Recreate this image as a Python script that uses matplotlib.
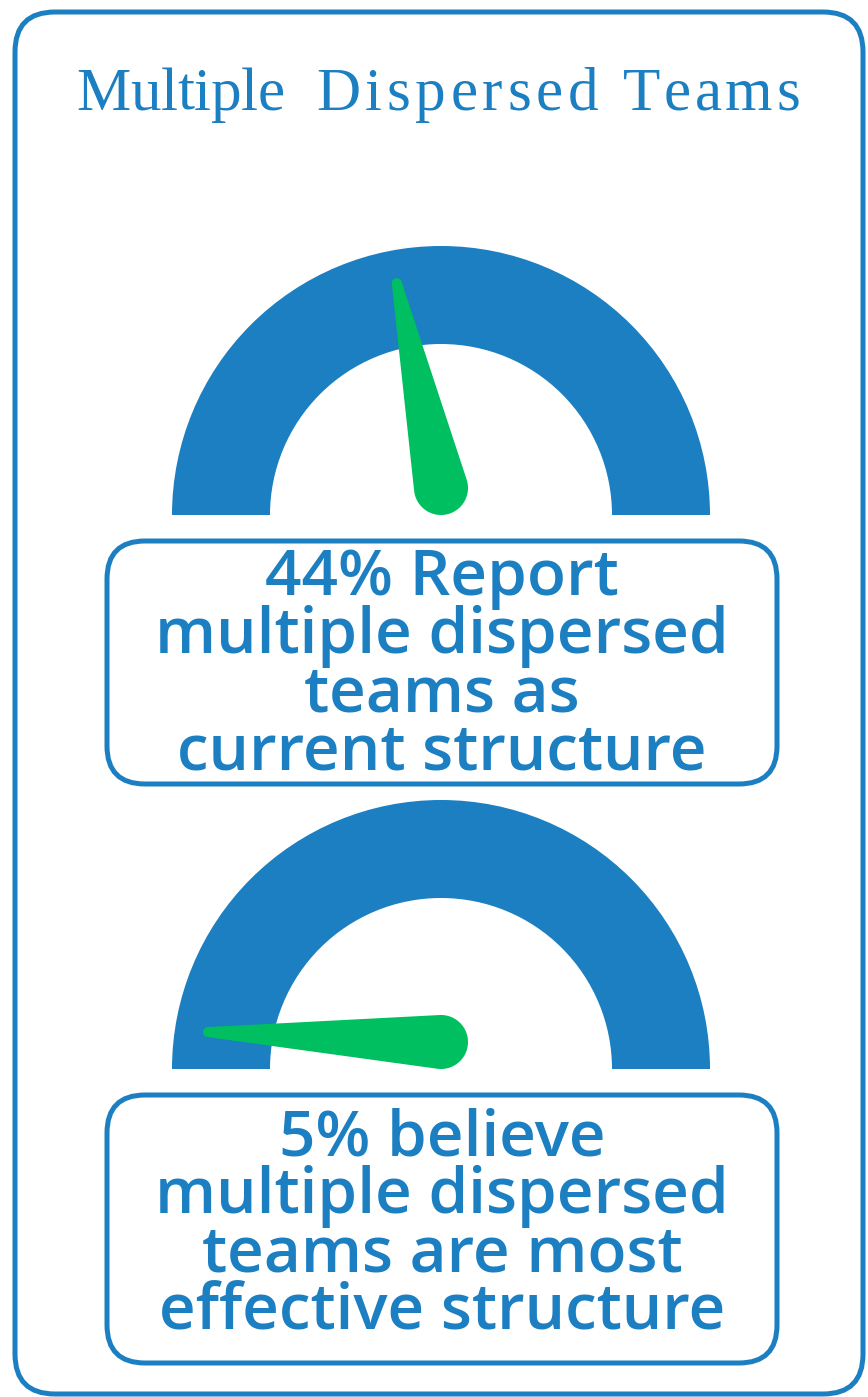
import numpy as np
import matplotlib.pyplot as plt
from matplotlib.patches import Wedge, FancyBboxPatch, Polygon

W, H = 868, 1397
BLUE = "#1b7fc1"
GREEN = "#00bf60"

title_words = ["Multiple", "Dispersed", "Teams"]
values = [44, 5]  # percent shown by each needle
captions = [
    ["44% Report", "multiple dispersed", "teams as", "current structure"],
    ["5% believe", "multiple dispersed", "teams are most", "effective structure"],
]

# layout (pixel units, y down)
gauge_cx = 441
gauge_cy = [515, 1069]
box_top = [541, 1095]
box_bottom = [784, 1363]
first_baseline = [595, 1155]
line_step = 58
word_span = [(76, 285), (316, 598), (623, 800)]

fig = plt.figure(figsize=(W / 100, H / 100), dpi=100)
ax = fig.add_axes([0, 0, 1, 1])
ax.set_xlim(0, W)
ax.set_ylim(H, 0)
ax.axis("off")
renderer = fig.canvas.get_renderer()

# outer frame
ax.add_patch(FancyBboxPatch((15, 12), 848, 1382, boxstyle="round,pad=0,rounding_size=40",
                            fc="none", ec=BLUE, lw=3.6))

# letter-spaced serif title
for word, (x0, x1) in zip(title_words, word_span):
    texts, widths = [], []
    for ch in word:
        t = ax.text(0, 110, ch, fontsize=44, family="Liberation Serif", color=BLUE,
                    ha="left", va="baseline")
        widths.append(t.get_window_extent(renderer).width)
        texts.append(t)
    gap = (x1 - x0 - sum(widths)) / (len(word) - 1)
    x = x0
    for t, w in zip(texts, widths):
        t.set_x(x)
        x += w + gap


def needle(cx, cy, value, r_tip=236, rt=5, rb=27):
    a = np.radians(180 * (1 - value / 100))
    bx, by = cx, cy - rb
    tx, ty = cx + r_tip * np.cos(a), cy - r_tip * np.sin(a)
    ang = np.arctan2(ty - by, tx - bx)
    phi = np.arccos((rb - rt) / np.hypot(tx - bx, ty - by))
    t1 = np.linspace(ang + phi, ang + 2 * np.pi - phi, 80)
    t2 = np.linspace(ang - phi, ang + phi, 20)
    pts = np.vstack([np.c_[bx + rb * np.cos(t1), by + rb * np.sin(t1)],
                     np.c_[tx + rt * np.cos(t2), ty + rt * np.sin(t2)]])
    return Polygon(pts, closed=True, fc=GREEN, ec="none", zorder=3)


for i, v in enumerate(values):
    cy = gauge_cy[i]
    ax.add_patch(Wedge((gauge_cx, cy), 269, 180, 360, width=98, fc=BLUE, ec="none", zorder=2))
    ax.add_patch(needle(gauge_cx, cy, v))

    top, bot = box_top[i], box_bottom[i]
    ax.add_patch(FancyBboxPatch((107, top), 670, bot - top, boxstyle="round,pad=0,rounding_size=38",
                                fc="none", ec=BLUE, lw=3.6))
    for j, line in enumerate(captions[i]):
        ax.text(442, first_baseline[i] + j * line_step, line, fontsize=46, family="Open Sans",
                fontweight="semibold", color=BLUE, ha="center", va="baseline")

fig.savefig("out.png", dpi=100)
